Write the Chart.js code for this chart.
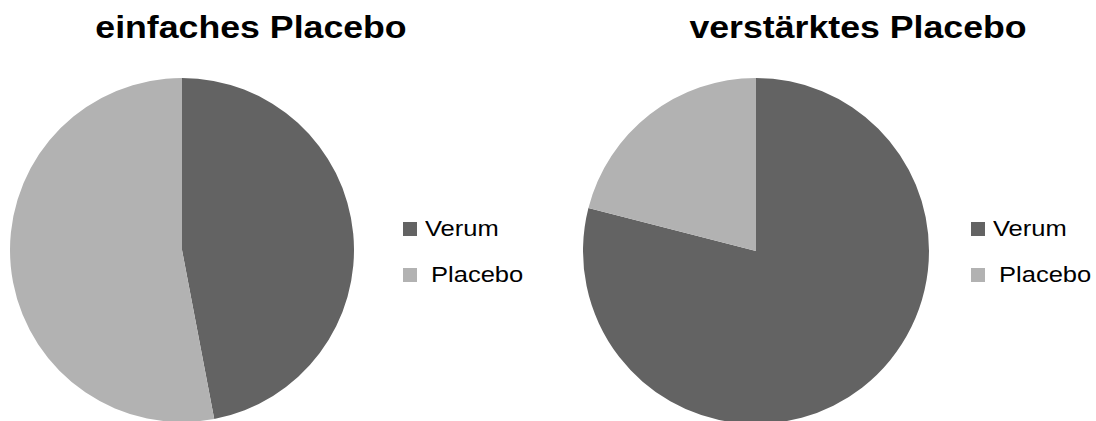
<!DOCTYPE html>
<html>
<head>
<meta charset="utf-8">
<script src="https://cdn.jsdelivr.net/npm/chart.js@4/dist/chart.umd.min.js"></script>
<style>
  html, body { margin: 0; padding: 0; background: #fff; overflow: hidden; }
  body { width: 1096px; height: 421px; position: relative; font-family: "Liberation Sans", Arial, sans-serif; }
  .title { position: absolute; top: 9px; font-weight: bold; font-size: 32px; text-align: center; width: 440px; color: #000; transform: scaleX(1.115); }
  .pie { position: absolute; }
  .legend { position: absolute; font-size: 22px; color: #000; }
  .legend div { position: relative; height: 46px; line-height: 28px; }
  .legend span.box { position: absolute; left: 0; top: 7px; width: 14px; height: 14px; }
  .legend span.txt { position: absolute; top: 0; white-space: pre; transform: scaleX(1.16); transform-origin: left center; }
</style>
</head>
<body>
<div class="title" style="left:31px">einfaches Placebo</div>
<div class="title" style="left:638px">verstärktes Placebo</div>
<div class="pie" style="left:10px;top:78px;width:344px;height:344px"><canvas id="pieEinfach"></canvas></div>
<div class="pie" style="left:583px;top:78px;width:346px;height:346px"><canvas id="pieVerstaerkt"></canvas></div>
<div class="legend" id="legendEinfach" style="left:403px;top:215px"></div>
<div class="legend" id="legendVerstaerkt" style="left:971px;top:215px"></div>
<script>
const categories = ['Verum', 'Placebo'];
const einfachValues = [47, 53];
const verstaerktValues = [79, 21];
const colors = ['#636363', '#b2b2b2'];
const labelOffsets = [22, 28];

function makePie(id, values) {
    new Chart(document.getElementById(id), {
        type: 'pie',
        data: {
            labels: categories,
            datasets: [{
                data: values,
                backgroundColor: colors,
                borderWidth: 0
            }]
        },
        options: {
            responsive: true,
            maintainAspectRatio: false,
            animation: false,
            layout: { padding: 0 },
            plugins: {
                legend: { display: false },
                tooltip: { enabled: false }
            }
        }
    });
}

function makeLegend(id) {
    const el = document.getElementById(id);
    categories.forEach((name, i) => {
        const row = document.createElement('div');
        row.innerHTML = '<span class="box" style="background:' + colors[i] + '"></span>' +
            '<span class="txt" style="left:' + labelOffsets[i] + 'px">' + name + '</span>';
        el.appendChild(row);
    });
}

makePie('pieEinfach', einfachValues);
makePie('pieVerstaerkt', verstaerktValues);
makeLegend('legendEinfach');
makeLegend('legendVerstaerkt');
</script>
</body>
</html>
